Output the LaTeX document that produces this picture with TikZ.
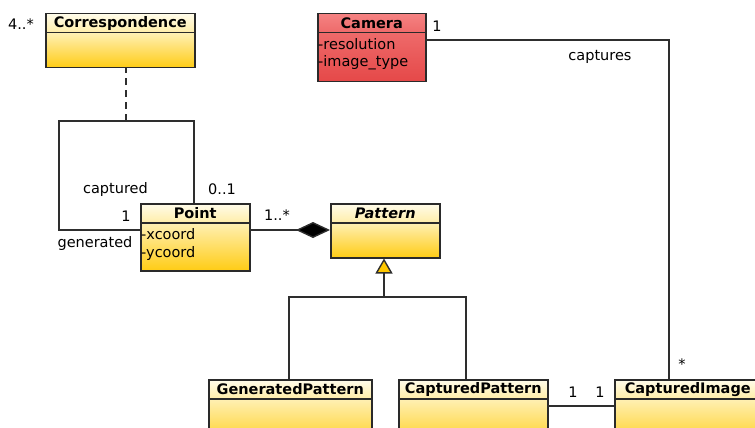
\documentclass[tikz,border=0pt]{standalone}
\usepackage{fontspec}
\setmainfont{DejaVu Sans}
\usetikzlibrary{arrows.meta}

\definecolor{boxline}{HTML}{2A2A2A}
\definecolor{wire}{HTML}{2E2E2E}
\definecolor{hdTop}{HTML}{FFFCEA}
\definecolor{hdBot}{HTML}{FFEDA8}
\definecolor{bdTop}{HTML}{FFF0B4}
\definecolor{bdBot}{HTML}{FFCC14}
\definecolor{redTop}{HTML}{F58282}
\definecolor{redMid}{HTML}{EE6A6A}
\definecolor{redBot}{HTML}{E54848}
\definecolor{triFill}{HTML}{FFC800}

\begin{document}
\begin{tikzpicture}[x=1pt,y=-1pt,
  every node/.style={font=\fontsize{14.5}{17}\selectfont},
  hdr/.style={draw=boxline, line width=1.5pt, anchor=north west, minimum height=19pt,
    inner sep=0pt, top color=hdTop, bottom color=hdBot,
    font=\fontsize{14.5}{17}\selectfont\bfseries},
  bdy/.style={draw=boxline, line width=1.5pt, anchor=north west, inner sep=0pt,
    top color=bdTop, bottom color=bdBot},
  redhdr/.style={hdr, top color=redTop, bottom color=redMid},
  redbdy/.style={bdy, top color=redMid, bottom color=redBot},
  attr/.style={anchor=west, inner sep=0pt},
  lbl/.style={inner sep=0pt},
  wire/.style={draw=wire, line width=1.4pt},
]
\useasboundingbox (0,0) rectangle (755,428);
\clip (0,0) rectangle (755,428);

% ---------- classes ----------
% Correspondence
\node[bdy, minimum width=149pt, minimum height=35pt] (corrB) at (45,32) {};
\node[hdr, minimum width=149pt] (corrH) at (45,13) {Correspondence};

% Camera
\node[redbdy, minimum width=108pt, minimum height=49pt] (camB) at (317,32) {};
\node[redhdr, minimum width=108pt] (camH) at (317,13) {Camera};
\node[attr] (camA1) at (318,44) {-resolution};
\node[attr] (camA2) at (318,63) {-image\_type};

% Point
\node[bdy, minimum width=109pt, minimum height=48pt] (ptB) at (140,222) {};
\node[hdr, minimum width=109pt] (ptH) at (140,203) {Point};
\node[attr] (ptA1) at (141,234) {-xcoord};
\node[attr] (ptA2) at (141,253) {-ycoord};

% Pattern (abstract)
\node[bdy, minimum width=109pt, minimum height=35pt] (patB) at (330,222) {};
\node[hdr, minimum width=109pt, font=\fontsize{14.5}{17}\selectfont\bfseries\itshape] (patH) at (330,203) {Pattern};

% GeneratedPattern
\node[bdy, minimum width=163pt, minimum height=50pt] (genB) at (208,398) {};
\node[hdr, minimum width=163pt] (genH) at (208,379) {GeneratedPattern};

% CapturedPattern
\node[bdy, minimum width=149pt, minimum height=50pt] (capB) at (398,398) {};
\node[hdr, minimum width=149pt] (capH) at (398,379) {CapturedPattern};

% CapturedImage
\node[bdy, minimum width=146pt, minimum height=50pt] (imgB) at (614,398) {};
\node[hdr, minimum width=146pt] (imgH) at (614,379) {CapturedImage};

% ---------- connector junctions ----------
\coordinate (dashJ) at (126,121);
\coordinate (loopL) at (59,121);
\coordinate (loopR) at (194,121);
\coordinate (ptW) at (140,230);
\coordinate (ptE) at (249,230);
\coordinate (patW) at (330,230);
\coordinate (inhJ) at (384,297);
\coordinate (genJ) at (289,297);
\coordinate (capJ) at (466,297);
\coordinate (capE) at (547,406);
\coordinate (imgW) at (614,406);
\coordinate (camE) at (425,40);
\coordinate (camJ) at (669,40);

% ---------- connectors ----------
% association class link
\draw[wire, dash pattern=on 7pt off 5pt] (dashJ) -- (dashJ |- corrB.south);
% reflexive association on Point
\draw[wire] (ptW) -| (loopL) -- (loopR) -- (loopR |- ptH.north);
% composition Point -> Pattern
\draw[wire, -{Diamond[length=34pt,width=16pt,fill=black]}] (ptE) -- (patW);
% generalisation
\draw[wire] (genJ |- genH.north) -- (genJ) -- (capJ) -- (capJ |- capH.north);
\draw[wire, -{Triangle[length=15pt,width=17pt,fill=triFill]}] (inhJ) -- (inhJ |- patB.south);
% CapturedPattern -- CapturedImage
\draw[wire] (capE) -- (imgW);
% Camera -- CapturedImage
\draw[wire] (camE) -- (camJ) -- (camJ |- imgH.north);

% ---------- multiplicities and roles ----------
\node[lbl] (mCorr) at (21,24) {4..*};
\node[lbl, anchor=east] (rCapt) at (148,189) {captured};
\node[lbl] (mCapt) at (222,189) {0..1};
\node[lbl] (mGen) at (126,216) {1};
\node[lbl] (rGen) at (95,243) {generated};
\node[lbl] (mPat) at (277,215) {1..*};
\node[lbl] (mCam) at (437,26) {1};
\node[lbl] (rCaptures) at (600,57) {captures};
\node[lbl] (mImgCam) at (682,364) {*};
\node[lbl] (mCapP) at (573,392) {1};
\node[lbl] (mImgP) at (600,392) {1};
\end{tikzpicture}
\end{document}
